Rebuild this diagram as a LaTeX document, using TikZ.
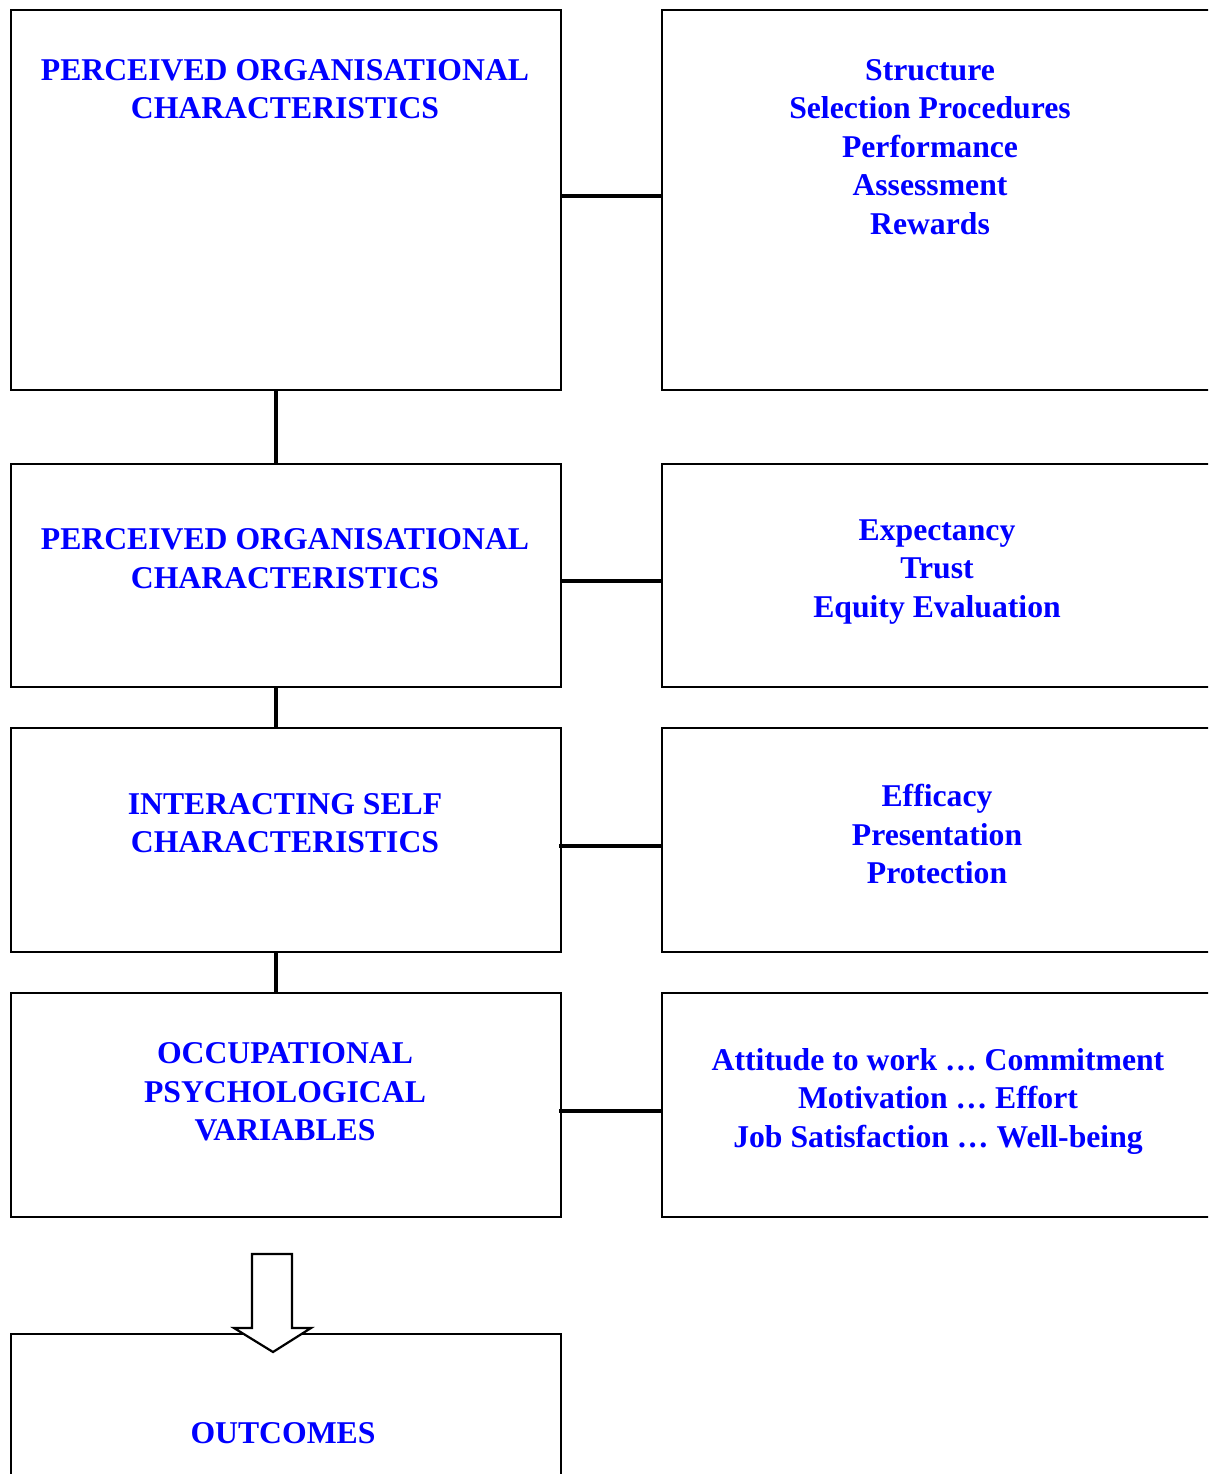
\documentclass[tikz,border=0pt]{standalone}
\usepackage{fontspec}
\setmainfont{Liberation Serif}
\usepackage{tikz}

\tikzset{
  box/.style={draw, line width=2.2pt, minimum width=550pt, anchor=north west, inner sep=0pt},
  rbox/.style={box, minimum width=560pt},
  link/.style={line width=4.5pt},
  lbl/.style={align=center, inner sep=0pt, text=blue, font=\bfseries\fontsize{31.7}{38.5}\selectfont},
}

\begin{document}
\begin{tikzpicture}[x=1pt,y=1pt,yscale=-1,xscale=1]
\clip (0,0) rectangle (1208,1474);

%Boxes: left column
\node[box, minimum height=380pt] (poc) at (10,9) {};
\node[box, minimum height=223pt] (pcc) at (10,463) {};
\node[box, minimum height=224pt] (isc) at (10,727) {};
\node[box, minimum height=224pt] (opv) at (10,992) {};
\node[box, minimum height=200pt] (out) at (10,1333) {};

%Boxes: right column
\node[rbox, minimum height=380pt] (pocR) at (661,9) {};
\node[rbox, minimum height=223pt] (pccR) at (661,463) {};
\node[rbox, minimum height=224pt] (iscR) at (661,727) {};
\node[rbox, minimum height=224pt] (opvR) at (661,992) {};

%Labels
\node[lbl] (pocL) at (285,89) {PERCEIVED ORGANISATIONAL\\CHARACTERISTICS};
\node[lbl] (pocRL) at (930,147) {Structure\\Selection Procedures\\Performance\\Assessment\\Rewards};
\node[lbl] (pccL) at (285,558.5) {PERCEIVED ORGANISATIONAL\\CHARACTERISTICS};
\node[lbl] (pccRL) at (937,572) {Expectancy\\Trust\\Equity Evaluation};
\node[lbl] (iscL) at (285,823) {INTERACTING SELF\\CHARACTERISTICS};
\node[lbl] (iscRL) at (937,834) {Efficacy\\Presentation\\Protection};
\node[lbl] (opvL) at (285,1092) {OCCUPATIONAL\\PSYCHOLOGICAL\\VARIABLES};
\node[lbl] (opvRL) at (938,1101) {Attitude to work … Commitment\\Motivation … Effort\\Job Satisfaction … Well-being};
\node[lbl] (outL) at (283,1433) {OUTCOMES};

%Connectors: across
\draw[link] ([yshift=-4pt]poc.east) -- ([yshift=-4pt]pocR.west);
\draw[link] ([yshift=5.5pt]pcc.east) -- ([yshift=5.5pt]pccR.west);
\draw[link] ([xshift=-3pt,yshift=6pt]isc.east) -- ([yshift=6pt]iscR.west);
\draw[link] ([xshift=-3pt,yshift=6pt]opv.east) -- ([yshift=6pt]opvR.west);

%Connectors: down
\draw[link] ([xshift=-10pt]poc.south) -- ([xshift=-10pt]pcc.north);
\draw[link] ([xshift=-10pt]pcc.south) -- ([xshift=-10pt]isc.north);
\draw[link] ([xshift=-10pt]isc.south) -- ([xshift=-10pt]opv.north);

%Block arrow into outcomes
\draw[line width=2.2pt, fill=white] (252,1254) -- (292,1254) -- (292,1328) -- (311,1328)
  -- (273,1352) -- (234,1328) -- (252,1328) -- cycle;

\end{tikzpicture}
\end{document}
